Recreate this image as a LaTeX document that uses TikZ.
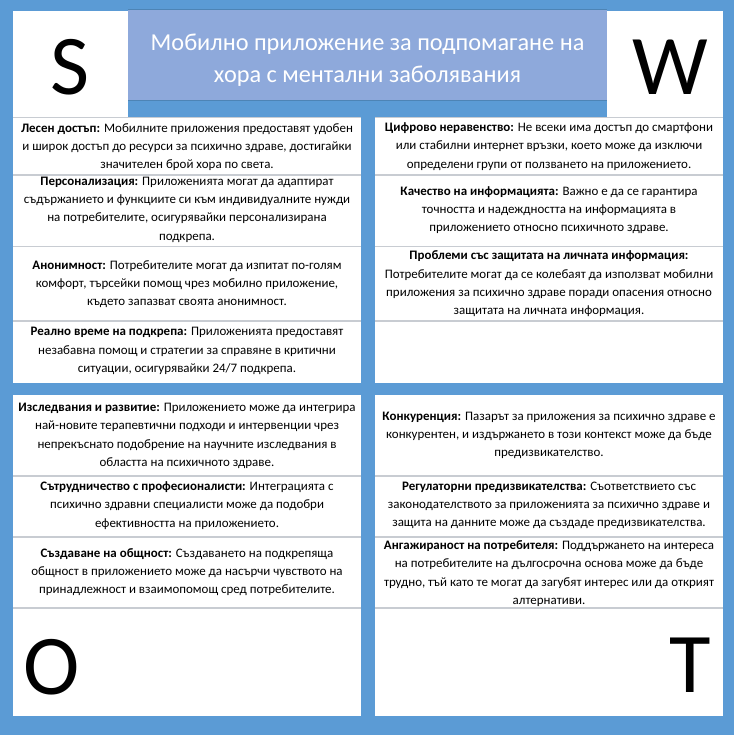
\documentclass[tikz,border=0pt]{standalone}
\usepackage{fontspec}
\setmainfont{Carlito}
\definecolor{bgblue}{HTML}{5B9BD5}
\definecolor{titleblue}{HTML}{8EA9DB}
\definecolor{sepgray}{HTML}{C8CCD2}
\begin{document}
\begin{tikzpicture}[x=1pt,y=-1pt,
  panel/.style={fill=white,draw=none},
  sepline/.style={draw=sepgray,line width=1.2pt},
  body/.style={align=center,inner sep=0pt,font=\fontsize{12.95}{18.3}\selectfont},
  bigletter/.style={inner sep=0pt,anchor=base,font=\fontsize{85}{90}\selectfont},
  titletext/.style={align=center,inner sep=0pt,text=white,font=\fontsize{24.3}{32}\selectfont}]
\useasboundingbox (0,0) rectangle (734,735);
\fill[bgblue] (0,0) rectangle (734,735);
% top boxes
\fill[white] (13,11) rectangle (128,118);
\fill[white] (607,11) rectangle (723,118);
\fill[titleblue] (128,9.5) rectangle (607,100);
\draw[bgblue!85!black,line width=0.6pt] (128,9.5) -- (607,9.5);
\draw[bgblue!85!black,line width=0.6pt] (128,100) -- (607,100);
% quadrants
\fill[white] (13,118) rectangle (361,383);
\fill[white] (375,118) rectangle (723,383);
\fill[white] (13,395) rectangle (361,716);
\fill[white] (375,395) rectangle (723,716);
% separators
\foreach \y in {117.5,175,246.5,321} {\draw[sepline] (13,\y) -- (361,\y);}
\foreach \y in {117.5,175,246.5,321} {\draw[sepline] (375,\y) -- (723,\y);}
\foreach \y in {476,537,608} {\draw[sepline] (13,\y) -- (361,\y);}
\foreach \y in {476,537,608} {\draw[sepline] (375,\y) -- (723,\y);}
% title
\node[titletext] (title) at (367.5,60) {Мобилно приложение за подпомагане на\\хора с ментални заболявания};
% big letters
\node[bigletter] (S) at (70,95) {S};
\node[bigletter] (W) at (670,95) {W};
\node[bigletter] (O) at (52,694) {O};
\node[bigletter] (T) at (690,692) {T};
% TL
\node[body] (tl1) at (187,147) {\textbf{Лесен достъп:} Мобилните приложения предоставят удобен\\и широк достъп до ресурси за психично здраве, достигайки\\значителен брой хора по света.};
\node[body] (tl2) at (187,209.5) {\textbf{Персонализация:} Приложенията могат да адаптират\\съдържанието и функциите си към индивидуалните нужди\\на потребителите, осигурявайки персонализирана\\подкрепа.};
\node[body] (tl3) at (187,284) {\textbf{Анонимност:} Потребителите могат да изпитат по-голям\\комфорт, търсейки помощ чрез мобилно приложение,\\където запазват своята анонимност.};
\node[body] (tl4) at (187,351) {\textbf{Реално време на подкрепа:} Приложенията предоставят\\незабавна помощ и стратегии за справяне в критични\\ситуации, осигурявайки 24/7 подкрепа.};
% TR
\node[body] (tr1) at (549,146.5) {\textbf{Цифрово неравенство:} Не всеки има достъп до смартфони\\или стабилни интернет връзки, което може да изключи\\определени групи от ползването на приложението.};
\node[body] (tr2) at (549,210) {\textbf{Качество на информацията:} Важно е да се гарантира\\точността и надеждността на информацията в\\приложението относно психичното здраве.};
\node[body] (tr3) at (549,284) {\textbf{Проблеми със защитата на личната информация:}\\Потребителите могат да се колебаят да използват мобилни\\приложения за психично здраве поради опасения относно\\защитата на личната информация.};
% BL
\node[body] (bl1) at (187,436) {\textbf{Изследвания и развитие:} Приложението може да интегрира\\най-новите терапевтични подходи и интервенции чрез\\непрекъснато подобрение на научните изследвания в\\областта на психичното здраве.};
\node[body] (bl2) at (187,505.5) {\textbf{Сътрудничество с професионалисти:} Интеграцията с\\психично здравни специалисти може да подобри\\ефективността на приложението.};
\node[body] (bl3) at (187,572) {\textbf{Създаване на общност:} Създаването на подкрепяща\\общност в приложението може да насърчи чувството на\\принадлежност и взаимопомощ сред потребителите.};
% BR
\node[body] (br1) at (549,435.5) {\textbf{Конкуренция:} Пазарът за приложения за психично здраве е\\конкурентен, и издържането в този контекст може да бъде\\предизвикателство.};
\node[body] (br2) at (549,505.5) {\textbf{Регулаторни предизвикателства:} Съответствието със\\законодателството за приложенията за психично здраве и\\защита на данните може да създаде предизвикателства.};
\node[body] (br3) at (549,573.5) {\textbf{Ангажираност на потребителя:} Поддържането на интереса\\на потребителите на дългосрочна основа може да бъде\\трудно, тъй като те могат да загубят интерес или да открият\\алтернативи.};
\end{tikzpicture}
\end{document}
